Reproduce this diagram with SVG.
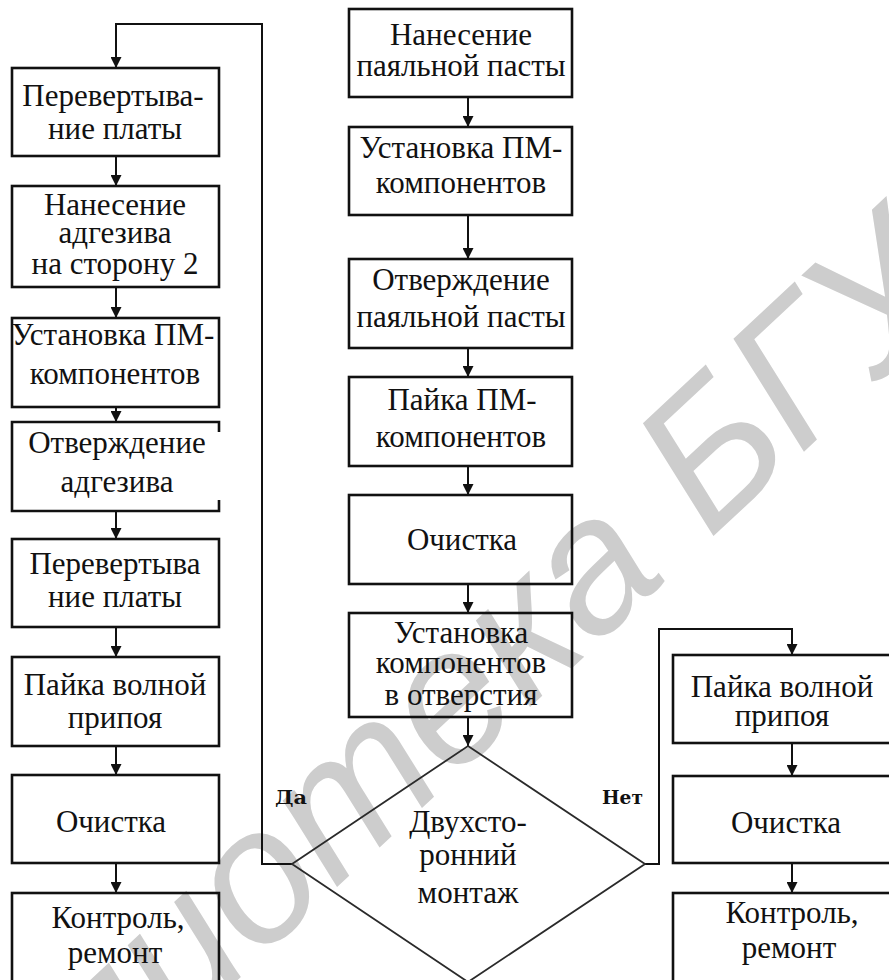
<svg xmlns="http://www.w3.org/2000/svg" width="889" height="980" viewBox="0 0 889 980">
  <defs>
    <style>
      .box { fill: none; stroke: #111; stroke-width: 2.6; }
      .edge { fill: none; stroke: #111; stroke-width: 2.6; }
      .dia { fill: none; stroke: #2a2a2a; stroke-width: 1.8; }
      .conn { fill: none; stroke: #111; stroke-width: 2; }
      .lbl { font-family: "Liberation Serif", "Times New Roman", "DejaVu Serif", serif; font-size: 31px; fill: #111; text-anchor: middle; }
      .tag { font-family: "DejaVu Serif", "Liberation Serif", serif; font-weight: bold; font-size: 19px; fill: #111; }
      .wm { font-family: "Liberation Sans", Arial, sans-serif; font-style: italic; font-size: 190px; fill: #cdcdcd; }
    </style>
    <marker id="arr" viewBox="0 0 12 12" refX="12" refY="6" markerWidth="12" markerHeight="11" markerUnits="userSpaceOnUse" orient="auto">
      <path d="M0,0 L12,6 L0,12 Z" fill="#111"/>
    </marker>
  </defs>
  <rect width="889" height="980" fill="#fff"/>

  <!-- background stamp -->
  <text class="wm" transform="translate(-141,1333) rotate(-43)">Библиотека БГУИР</text>

  <!-- connectors -->
  <g id="connectors">
    <path class="conn" d="M292,864 H262 V24 H116 V68" marker-end="url(#arr)"/>
    <path class="conn" d="M116,156 V186" marker-end="url(#arr)"/>
    <path class="conn" d="M116,287 V318" marker-end="url(#arr)"/>
    <path class="conn" d="M116,407 V422" marker-end="url(#arr)"/>
    <path class="conn" d="M116,511 V539" marker-end="url(#arr)"/>
    <path class="conn" d="M116,627 V657" marker-end="url(#arr)"/>
    <path class="conn" d="M116,746 V775" marker-end="url(#arr)"/>
    <path class="conn" d="M116,863 V893" marker-end="url(#arr)"/>

    <path class="conn" d="M468,97 V127" marker-end="url(#arr)"/>
    <path class="conn" d="M468,215 V259" marker-end="url(#arr)"/>
    <path class="conn" d="M468,348 V377" marker-end="url(#arr)"/>
    <path class="conn" d="M468,466 V495" marker-end="url(#arr)"/>
    <path class="conn" d="M468,584 V613" marker-end="url(#arr)"/>
    <path class="conn" d="M468,717 V746" marker-end="url(#arr)"/>

    <path class="conn" d="M645,864 H659 V629 H792 V655" marker-end="url(#arr)"/>
    <path class="conn" d="M792,743 V776" marker-end="url(#arr)"/>
    <path class="conn" d="M792,863 V893" marker-end="url(#arr)"/>

    <text class="tag" x="275" y="804" textLength="32" lengthAdjust="spacingAndGlyphs">Да</text>
    <text class="tag" x="602" y="804" textLength="41" lengthAdjust="spacingAndGlyphs">Нет</text>
  </g>

  <!-- left column: second side -->
  <g id="flip1">
    <rect class="box" x="12" y="68" width="207" height="88"/>
    <text class="lbl" x="113" y="106">Перевертыва-</text>
    <text class="lbl" x="115" y="139">ние платы</text>
  </g>
  <g id="adhesive2">
    <rect class="box" x="12" y="186" width="207" height="101"/>
    <text class="lbl" x="115" y="215">Нанесение</text>
    <text class="lbl" x="115" y="243">адгезива</text>
    <text class="lbl" x="115" y="274">на сторону 2</text>
  </g>
  <g id="place2">
    <rect class="box" x="12" y="318" width="207" height="89"/>
    <text class="lbl" x="113" y="345">Установка ПМ-</text>
    <text class="lbl" x="115" y="384">компонентов</text>
  </g>
  <g id="cure2">
    <path class="edge" d="M219,432 V422 H12 V511 H219 V500"/>
    <text class="lbl" x="117" y="453">Отверждение</text>
    <text class="lbl" x="117" y="492">адгезива</text>
  </g>
  <g id="flip2">
    <rect class="box" x="12" y="539" width="207" height="88"/>
    <text class="lbl" x="115" y="574">Перевертыва</text>
    <text class="lbl" x="115" y="607">ние платы</text>
  </g>
  <g id="wave1">
    <rect class="box" x="12" y="657" width="207" height="89"/>
    <text class="lbl" x="115" y="695">Пайка волной</text>
    <text class="lbl" x="115" y="728">припоя</text>
  </g>
  <g id="clean1">
    <rect class="box" x="12" y="775" width="207" height="88"/>
    <text class="lbl" x="111" y="832">Очистка</text>
  </g>
  <g id="check1">
    <rect class="box" x="12" y="893" width="207" height="100"/>
    <text class="lbl" x="118" y="928">Контроль,</text>
    <text class="lbl" x="115" y="963">ремонт</text>
  </g>

  <!-- middle column: first side -->
  <g id="paste">
    <rect class="box" x="349" y="9" width="223" height="88"/>
    <text class="lbl" x="461" y="45">Нанесение</text>
    <text class="lbl" x="461" y="76">паяльной пасты</text>
  </g>
  <g id="place1">
    <rect class="box" x="349" y="127" width="223" height="88"/>
    <text class="lbl" x="461" y="158">Установка ПМ-</text>
    <text class="lbl" x="461" y="193">компонентов</text>
  </g>
  <g id="cure1">
    <rect class="box" x="349" y="259" width="223" height="89"/>
    <text class="lbl" x="461" y="290">Отверждение</text>
    <text class="lbl" x="461" y="327">паяльной пасты</text>
  </g>
  <g id="reflow">
    <rect class="box" x="349" y="377" width="223" height="89"/>
    <text class="lbl" x="462" y="410">Пайка ПМ-</text>
    <text class="lbl" x="461" y="447">компонентов</text>
  </g>
  <g id="clean0">
    <rect class="box" x="349" y="495" width="223" height="89"/>
    <text class="lbl" x="462" y="550">Очистка</text>
  </g>
  <g id="tht">
    <rect class="box" x="349" y="613" width="223" height="104"/>
    <text class="lbl" x="461" y="643">Установка</text>
    <text class="lbl" x="461" y="673">компонентов</text>
    <text class="lbl" x="461" y="705">в отверстия</text>
  </g>
  <g id="decision">
    <path class="dia" d="M468,746 L645,864 L468,982 L292,864 Z"/>
    <text class="lbl" x="468" y="832">Двухсто-</text>
    <text class="lbl" x="468" y="865">ронний</text>
    <text class="lbl" x="468" y="903">монтаж</text>
  </g>

  <!-- right column: single side -->
  <g id="wave2">
    <rect class="box" x="673" y="655" width="230" height="88"/>
    <text class="lbl" x="782" y="697">Пайка волной</text>
    <text class="lbl" x="782" y="726">припоя</text>
  </g>
  <g id="clean2">
    <rect class="box" x="673" y="776" width="230" height="87"/>
    <text class="lbl" x="786" y="833">Очистка</text>
  </g>
  <g id="check2">
    <rect class="box" x="673" y="893" width="230" height="100"/>
    <text class="lbl" x="792" y="923">Контроль,</text>
    <text class="lbl" x="789" y="958">ремонт</text>
  </g>
</svg>
